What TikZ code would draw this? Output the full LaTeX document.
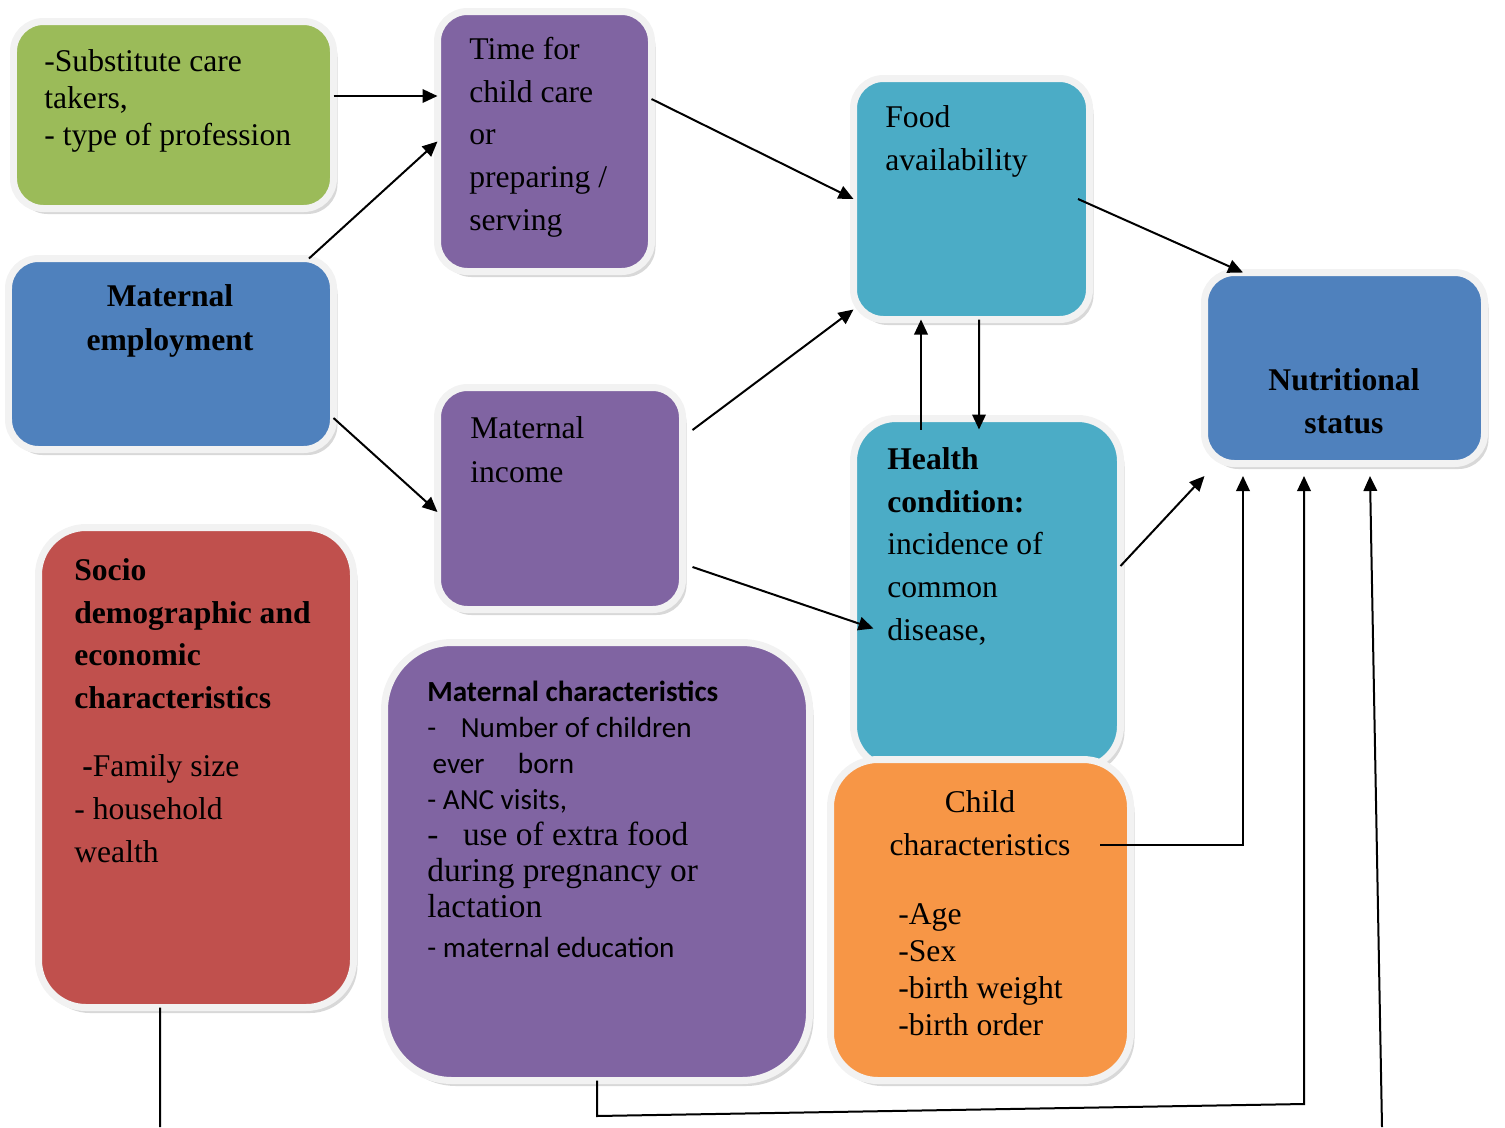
\documentclass[tikz,border=0pt]{standalone}
\usepackage{fontspec}
\setmainfont{Liberation Serif}
\newfontfamily\calfont{Carlito}
\definecolor{G}{HTML}{9BBB59}
\definecolor{P}{HTML}{8064A2}
\definecolor{B}{HTML}{4F81BD}
\definecolor{C}{HTML}{4BACC6}
\definecolor{R}{HTML}{C0504D}
\definecolor{O}{HTML}{F79646}
\definecolor{rim}{HTML}{F2F2F2}
\usetikzlibrary{arrows.meta}
\usetikzlibrary{fit}
\usetikzlibrary{shadows}
\tikzstyle{box}=[draw=rim, line width=0.14cm, inner sep=0.07cm, outer sep=0pt, rounded corners=0.6cm, drop shadow={shadow xshift=0.08cm, shadow yshift=-0.11cm, fill=black!30}]
\tikzstyle{txt}=[inner sep=0pt, anchor=base west, align=left, font=\fontsize{18}{24.2}\selectfont]
\tikzstyle{arr}=[-{Triangle[length=0.3cm, width=0.27cm]}, line width=0.04cm]
\tikzstyle{link}=[line width=0.04cm]

\begin{document}
\begin{tikzpicture}[x=0.02cm, y=-0.02cm]
    \useasboundingbox (0,0) rectangle (1505,1127);
        \node [box, fill=G, fit={(17,25) (330,205)}] (sub) {};
        \node [box, fill=P, fit={(441,15) (648,268)}] (time) {};
        \node [box, fill=B, fit={(12,262) (330,446)}] (matemp) {};
        \node [box, fill=P, fit={(441,391) (679,606)}] (income) {};
        \node [box, fill=C, fit={(857,82) (1086,316)}] (food) {};
        \node [box, fill=C, rounded corners=0.85cm, fit={(857,422) (1117,765)}] (health) {};
        \node [box, fill=B, fit={(1208,276) (1481,460)}] (nutr) {};
        \node [box, fill=R, rounded corners=0.95cm, fit={(42,531) (350,1004)}] (socio) {};
        \node [box, fill=P, rounded corners=1.35cm, fit={(388,646) (806,1077)}] (matchar) {};
        \node [box, fill=O, rounded corners=0.95cm, fit={(834,763) (1127,1077)}] (child) {};

        \node [txt, font=\fontsize{18}{21}\selectfont] (sub-t) at (44,145) {-Substitute care\\takers,\\- type of profession};
        \node [txt] (time-t) at (469,230) {Time for\\child care\\or\\preparing /\\serving};
        \node [txt, anchor=base, align=center, font=\fontsize{18}{24.5}\selectfont\bfseries] (matemp-t) at (170,350) {Maternal\\employment};
        \node [txt, font=\fontsize{18}{25}\selectfont] (income-t) at (470,482) {Maternal\\income};
        \node [txt] (food-t) at (885,170) {Food\\availability};
        \node [txt] (health-t) at (887,640) {\textbf{Health}\\\textbf{condition:}\\incidence of\\common\\disease,};
        \node [txt, anchor=base, align=center, font=\fontsize{18}{24}\selectfont\bfseries] (nutr-t) at (1344,433) {Nutritional\\status};
        \node [txt] (socio-t) at (74,862) {\textbf{Socio}\\\textbf{demographic and}\\\textbf{economic}\\\textbf{characteristics}\\[15pt]\hspace*{4.5pt}\textbf{-}Family size\\- household\\wealth};
        \node [txt, font=\fontsize{16.6}{20.5}\selectfont\calfont] (matchar-t) at (427,957) {\textbf{Maternal characteristics}\\-\hspace{14pt}Number of children\\\hspace*{3pt}ever\hspace{19pt}born\\- ANC visits,\\{\rmfamily\fontsize{19}{20.5}\selectfont -\hspace{14pt}use of extra food}\\{\rmfamily\fontsize{19}{20.5}\selectfont during pregnancy or}\\{\rmfamily\fontsize{19}{20.5}\selectfont lactation}\\[2pt]- maternal education};
        \node [txt, anchor=base, align=center, font=\fontsize{18}{24}\selectfont] (child-t) at (980,855) {Child\\characteristics};
        \node [txt, font=\fontsize{18}{21}\selectfont] (childlist-t) at (898,1035) {-Age\\-Sex\\-birth weight\\-birth order};

        \coordinate (mc-bend) at (1304,1104);
        \coordinate (socio-end) at (160,1127);
        \coordinate (ns-start) at (1382,1127);

        \draw [arr] ([yshift=0.38cm]sub.east) -- ([yshift=0.38cm]sub.east -| time.west);
        \draw [arr] ([xshift=2.76cm]matemp.north) -- (time.west);
        \draw [arr] ([yshift=-1.28cm]matemp.east) -- ([yshift=-0.27cm]income.west);
        \draw [arr] ([yshift=0.85cm]time.east) -- (food.west);
        \draw [arr] ([xshift=0.2cm, yshift=1.37cm]income.east) -- ([yshift=0.2cm]food.south west);
        \draw [arr] ([xshift=0.2cm, yshift=-1.37cm]income.east) -- ([xshift=0.4cm, yshift=-0.7cm]health.west);
        \draw [arr] ([xshift=-1.32cm, yshift=-0.22cm]health.north) -- ([xshift=-1.32cm]health.north |- food.south);
        \draw [arr] ([xshift=0.15cm]food.south) -- ([xshift=-0.16cm, yshift=-0.22cm]health.north);
        \draw [arr] ([xshift=-0.23cm]food.east) -- ([xshift=0.77cm]nutr.north west);
        \draw [arr] ([yshift=0.55cm]health.east) -- ([yshift=-0.25cm]nutr.south west);
        \draw [arr] ([xshift=-0.61cm, yshift=1.5cm]child.east) -| ([xshift=0.77cm, yshift=-0.25cm]nutr.south west);
        \draw [arr] (matchar.south) -- ([yshift=-0.71cm]matchar.south) -- (mc-bend) -- ([xshift=-0.81cm, yshift=-0.25cm]nutr.south);
        \draw [link] ([xshift=-0.72cm]socio.south) -- (socio-end);
        \draw [arr] (ns-start) -- ([xshift=0.51cm, yshift=-0.25cm]nutr.south);
\end{tikzpicture}
\end{document}
